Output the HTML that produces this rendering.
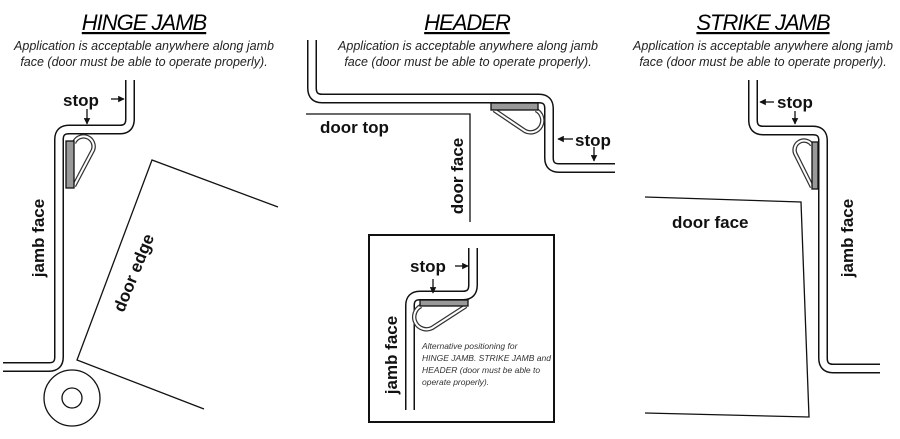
<!DOCTYPE html>
<html><head><style>
html,body{margin:0;padding:0;background:#fff}
svg{display:block}
.t{font-family:"Liberation Sans",sans-serif;font-style:italic;font-size:22px;text-anchor:middle;text-decoration:underline;letter-spacing:-1px}
.s{font-family:"Liberation Sans",sans-serif;font-style:italic;font-size:12.5px;text-anchor:middle;fill:#222}
.b{font-family:"Liberation Sans",sans-serif;font-weight:bold;font-size:17px;fill:#111}
.o{fill:none;stroke:#111;stroke-width:10}
.i{fill:none;stroke:#fff;stroke-width:7}
.lo{fill:none;stroke:#333;stroke-width:4.5}
.li{fill:none;stroke:#fff;stroke-width:2}
.ln{fill:none;stroke:#111;stroke-width:1.3}
.ws{fill:#999;stroke:#111;stroke-width:1.3}
</style></head><body>
<svg width="900" height="439" viewBox="0 0 900 439">
<defs><marker id="a" viewBox="0 0 10 10" refX="9" refY="5" markerWidth="5" markerHeight="5" orient="auto"><path d="M0,0L10,5L0,10z" fill="#111"/></marker></defs>

<!-- HINGE JAMB -->
<text class="t" x="144" y="30">HINGE JAMB</text>
<text class="s" x="144" y="50">Application is acceptable anywhere along jamb</text>
<text class="s" x="144" y="66">face (door must be able to operate properly).</text>
<path class="o" d="M130,80V119Q130,129.5 120,129.5H69Q59,129.5 59,139.5V357Q59,367 49,367H3"/>
<path class="i" d="M130,80V119Q130,129.5 120,129.5H69Q59,129.5 59,139.5V357Q59,367 49,367H3"/>
<path class="lo" d="M74,186L93,150A10,10 0 0 0 74,143"/><path class="li" d="M74,186L93,150A10,10 0 0 0 74,143"/>
<rect class="ws" x="66" y="141" width="8" height="47"/>
<text class="b" x="63" y="106">stop</text>
<line class="ln" x1="111" y1="99" x2="124" y2="99" marker-end="url(#a)"/>
<line class="ln" x1="87" y1="109" x2="87" y2="124" marker-end="url(#a)"/>
<path class="ln" d="M278,207L152,160L77,360L204,409"/>
<circle class="ln" cx="72" cy="398" r="28"/><circle class="ln" cx="72" cy="398" r="10"/>
<text class="b" transform="translate(44,238) rotate(-90)" text-anchor="middle" font-size="19">jamb face</text>
<text class="b" transform="translate(139,275) rotate(-68)" text-anchor="middle" font-size="19">door edge</text>

<!-- HEADER -->
<text class="t" x="467" y="30">HEADER</text>
<text class="s" x="468" y="50">Application is acceptable anywhere along jamb</text>
<text class="s" x="468" y="66">face (door must be able to operate properly).</text>
<path class="o" d="M312,40V88Q312,98.5 322,98.5H539Q549,98.5 549,108.5V158Q549,168 559,168H615"/>
<path class="i" d="M312,40V88Q312,98.5 322,98.5H539Q549,98.5 549,108.5V158Q549,168 559,168H615"/>
<path class="lo" d="M494,110L525,131A8,8 0 0 0 536,110"/><path class="li" d="M494,110L525,131A8,8 0 0 0 536,110"/>
<rect class="ws" x="491" y="103" width="47" height="7"/>
<text class="b" x="575" y="146" font-size="18">stop</text>
<line class="ln" x1="573" y1="139" x2="558" y2="139" marker-end="url(#a)"/>
<line class="ln" x1="594" y1="147" x2="594" y2="161" marker-end="url(#a)"/>
<path class="ln" d="M306,114H470V222"/>
<text class="b" x="320" y="133" font-size="17">door top</text>
<text class="b" transform="translate(463,176) rotate(-90)" text-anchor="middle" font-size="18">door face</text>

<rect x="369" y="235" width="185" height="187" fill="none" stroke="#111" stroke-width="2"/>
<path class="o" d="M473,248V285Q473,295.5 463,295.5H420Q410,295.5 410,305.5V410"/>
<path class="i" d="M473,248V285Q473,295.5 463,295.5H420Q410,295.5 410,305.5V410"/>
<path class="lo" d="M466,306L432,328A8,8 0 0 1 421,306"/><path class="li" d="M466,306L432,328A8,8 0 0 1 421,306"/>
<rect class="ws" x="420" y="300" width="48" height="6"/>
<text class="b" x="410" y="272" font-size="16">stop</text>
<line class="ln" x1="455" y1="266" x2="468" y2="266" marker-end="url(#a)"/>
<line class="ln" x1="433" y1="279" x2="433" y2="293" marker-end="url(#a)"/>
<text class="b" transform="translate(397,355) rotate(-90)" text-anchor="middle" font-size="18">jamb face</text>
<g font-family="Liberation Sans,sans-serif" font-style="italic" font-size="8.5" fill="#333">
<text x="422" y="349">Alternative positioning for</text>
<text x="422" y="361">HINGE JAMB. STRIKE JAMB and</text>
<text x="422" y="373">HEADER (door must be able to</text>
<text x="422" y="385">operate properly).</text>
</g>

<!-- STRIKE JAMB -->
<text class="t" x="763" y="30">STRIKE JAMB</text>
<text class="s" x="763" y="50">Application is acceptable anywhere along jamb</text>
<text class="s" x="763" y="66">face (door must be able to operate properly).</text>
<path class="o" d="M753,80V120Q753,130.5 763,130.5H813Q823,130.5 823,140.5V358Q823,368.5 833,368.5H880"/>
<path class="i" d="M753,80V120Q753,130.5 763,130.5H813Q823,130.5 823,140.5V358Q823,368.5 833,368.5H880"/>
<path class="lo" d="M812,187L796,155A9,9 0 1 1 812,145"/><path class="li" d="M812,187L796,155A9,9 0 1 1 812,145"/>
<rect class="ws" x="812" y="142" width="6" height="47"/>
<text class="b" x="777" y="108" font-size="17">stop</text>
<line class="ln" x1="774" y1="102" x2="760" y2="102" marker-end="url(#a)"/>
<line class="ln" x1="795" y1="111" x2="795" y2="124" marker-end="url(#a)"/>
<path class="ln" d="M645,197L801,202L809,417L645,413"/>
<text class="b" x="672" y="228" font-size="19">door face</text>
<text class="b" transform="translate(853,238) rotate(-90)" text-anchor="middle" font-size="18">jamb face</text>
</svg>
</body></html>
